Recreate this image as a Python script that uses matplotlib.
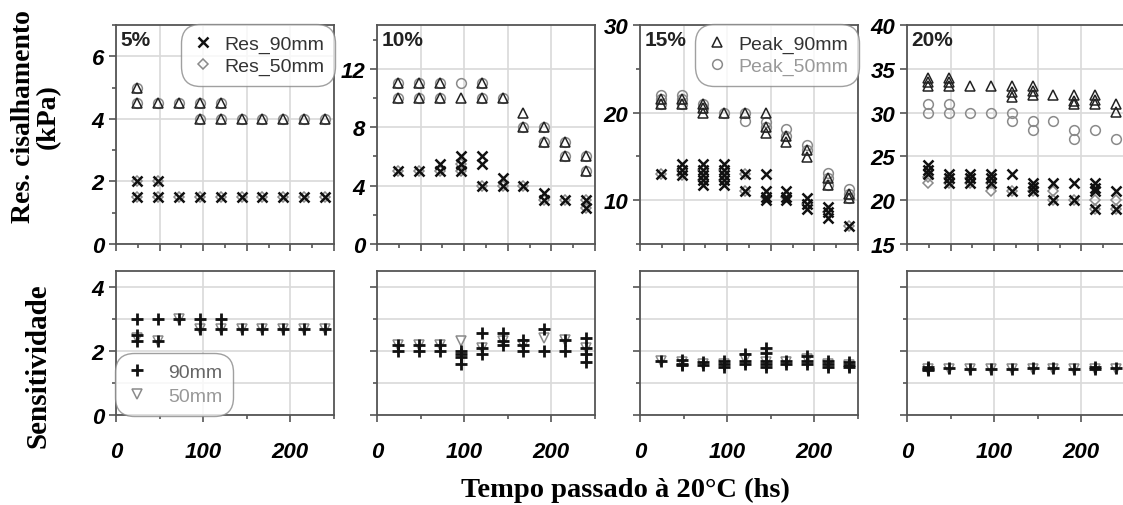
import numpy as np
import matplotlib
matplotlib.use("Agg")
import matplotlib.pyplot as plt
from matplotlib.ticker import MultipleLocator, FixedLocator
from matplotlib.font_manager import FontProperties

# tempos de ensaio (hs)
tempos = [24, 48, 72, 96, 120, 144, 168, 192, 216, 240]
teores = ["5%", "10%", "15%", "20%"]

# resistencia ao cisalhamento (kPa), varias leituras por tempo
peak90_5 = [[5.0, 4.5], [4.5], [4.5], [4.5, 4.0], [4.5, 4.0], [4.0], [4.0], [4.0], [4.0], [4.0]]
peak50_5 = [[5.0, 4.5], [4.5], [4.5], [4.5, 4.0], [4.5, 4.0], [4.0], [4.0], [4.0], [4.0], [4.0]]
res90_5 = [[2.0, 1.5], [2.0, 1.5], [1.5], [1.5], [1.5], [1.5], [1.5], [1.5], [1.5], [1.5]]
res50_5 = [[2.0, 1.5], [2.0, 1.5], [1.5], [1.5], [1.5], [1.5], [1.5], [1.5], [1.5], [1.5]]

peak90_10 = [[11, 10], [11, 10], [11, 10], [10], [11, 10], [10], [9, 8], [8, 7], [7, 6], [6, 5]]
peak50_10 = [[11, 10], [11, 10], [11, 10], [11], [11, 10], [10], [8], [8, 7], [7, 6], [6, 5]]
res90_10 = [[5], [5], [5.5, 5], [6, 5.5, 5], [6, 5.5, 4], [4.5, 4], [4], [3.5, 3], [3], [3, 2.5]]
res50_10 = [[5], [5], [5], [5.5, 5], [4], [4], [4], [3], [3], [3, 2.5]]

peak90_15 = [[21.5, 21], [21.5, 21], [21, 20.5, 20], [20], [20], [20, 18.3, 17.7],
             [17.3, 16.7], [15.7, 14.9], [12.5, 11.7], [10.7, 10.2]]
peak50_15 = [[22, 21.5, 21], [22, 21.5, 21], [21, 20.5], [20], [20, 19], [18.9, 18.3],
             [18.1, 17.3], [16.3, 15.7], [13.1, 12.5, 11.7], [11.3, 10.7, 10.2]]
res90_15 = [[13], [14.1, 13.5, 12.9], [14.1, 13.5, 12.9, 12.3, 11.7], [14.1, 13.5, 12.9, 12.3, 11.7],
            [13, 11], [13, 11, 10.4, 10], [11, 10.4, 10], [10.2, 9.6, 9.0], [9.2, 8.6, 8.0], [7]]
res50_15 = [[13], [13.5, 12.9], [13.5, 12.3], [13.5, 12.3], [13, 11], [10.4], [10.4], [9.6], [8.6], [7]]

peak90_20 = [[34, 33.5, 33], [34, 33.5, 33], [33], [33], [33, 32.4, 31.8], [33, 32.5, 32],
             [32], [32, 31.3, 31], [32, 31.4, 31], [31, 30.1]]
peak50_20 = [[31, 30], [31, 30], [30], [30], [30, 29], [29, 28], [29], [28, 27], [28], [27]]
res90_20 = [[24, 23.5, 23], [23, 22.5, 22], [23, 22.5, 22], [23, 22.5, 22], [23, 21], [22, 21.5, 21],
            [22, 20], [22, 20], [22, 21.4, 21, 19], [21, 19]]
res50_20 = [[22.6, 22], [22.5, 22], [22.5, 22], [22, 21], [21], [21], [21, 20], [20], [20, 19], [20, 19]]

# sensitividade
sens90_5 = [[3.0, 2.5, 2.3], [3.0, 2.3], [3.0], [3.0, 2.7], [3.0, 2.7], [2.7], [2.7], [2.7], [2.7], [2.7]]
sens50_5 = [[2.4], [2.3], [3.0], [2.7], [2.7], [2.7], [2.7], [2.7], [2.7], [2.7]]
sens90_10 = [[2.2, 2.0], [2.2, 2.0], [2.2, 2.0], [2.0, 1.9, 1.8, 1.6], [2.55, 2.1, 1.9],
             [2.55, 2.3, 2.2], [2.35, 2.2, 2.0], [2.7, 2.0], [2.35, 2.0], [2.4, 2.1, 1.9, 1.65]]
sens50_10 = [[2.2], [2.2], [2.2], [2.3], [2.1], [2.3], [2.2], [2.4], [2.35], [2.1]]
sens90_15 = [[1.7], [1.73, 1.6, 1.55], [1.65, 1.55], [1.7, 1.6, 1.5], [1.9, 1.7, 1.6],
             [2.1, 1.95, 1.7, 1.6, 1.5], [1.7, 1.6], [1.85, 1.7, 1.6], [1.7, 1.6, 1.5], [1.65, 1.55, 1.5]]
sens50_15 = [[1.7], [1.65], [1.6], [1.6], [1.75], [1.65], [1.65], [1.75], [1.6], [1.55]]
sens90_20 = [[1.5, 1.45, 1.4], [1.48], [1.43], [1.45], [1.43], [1.48], [1.47], [1.43], [1.5, 1.45], [1.48]]
sens50_20 = [[1.45], [1.45], [1.43], [1.45], [1.43], [1.45], [1.45], [1.43], [1.45], [1.45]]

topo = [(peak90_5, peak50_5, res90_5, res50_5),
        (peak90_10, peak50_10, res90_10, res50_10),
        (peak90_15, peak50_15, res90_15, res50_15),
        (peak90_20, peak50_20, res90_20, res50_20)]
baixo = [(sens90_5, sens50_5), (sens90_10, sens50_10), (sens90_15, sens50_15), (sens90_20, sens50_20)]

ylims = [(0, 7), (0, 15), (5, 30), (15, 40)]
ymaj = [[0, 2, 4, 6], [0, 4, 8, 12], [10, 20, 30], [15, 20, 25, 30, 35, 40]]
ymin = [1, 2, 5, 5]


def achatar(series):
    xs, ys = [], []
    for t, vals in zip(tempos, series):
        for v in vals:
            xs.append(t)
            ys.append(v)
    return xs, ys


W, H = 1123, 506
fig = plt.figure(figsize=(W / 100, H / 100), dpi=100)

lefts = [116, 377, 640, 907]
width = 218
tick_fp = FontProperties(family="Liberation Sans", weight="bold", style="italic", size=16)
leg_prop = dict(family="Liberation Sans", size=14)
cinza = "#8a8a8a"
spine_c = "#555555"


def estilo(ax):
    for s in ax.spines.values():
        s.set_color(spine_c)
        s.set_linewidth(1.3)
    ax.tick_params(which="both", direction="out", color=spine_c, width=1.2)
    ax.tick_params(which="major", length=5)
    ax.tick_params(which="minor", length=3)
    ax.grid(True, which="major", color="#d9d9d9", linewidth=1.2)
    ax.set_axisbelow(True)


def caixa(leg):
    leg.get_frame().set_boxstyle("round,pad=0.2,rounding_size=1.0")
    leg.get_frame().set_linewidth(1.0)


for i in range(4):
    x0 = lefts[i] / W
    ax = fig.add_axes([x0, (H - 245) / H, width / W, 219 / H])
    p90, p50, r90, r50 = topo[i]
    xs, ys = achatar(p50)
    ax.plot(xs, ys, ls="none", marker="o", ms=7, mfc="none", mec=cinza, mew=1.1, label="Peak_50mm")
    xs, ys = achatar(p90)
    ax.plot(xs, ys, ls="none", marker="^", ms=7, mfc="none", mec="#222222", mew=1.1, label="Peak_90mm")
    xs, ys = achatar(r50)
    ax.plot(xs, ys, ls="none", marker="D", ms=5.5, mfc="none", mec=cinza, mew=1.1, label="Res_50mm")
    xs, ys = achatar(r90)
    ax.plot(xs, ys, ls="none", marker="x", ms=6.5, mec="#111111", mew=1.8, label="Res_90mm")
    ax.set_xlim(0, 250)
    ax.set_ylim(*ylims[i])
    ax.xaxis.set_major_locator(MultipleLocator(50))
    ax.xaxis.set_minor_locator(MultipleLocator(25))
    ax.set_xticklabels([])
    ax.yaxis.set_major_locator(FixedLocator(ymaj[i]))
    ax.yaxis.set_minor_locator(MultipleLocator(ymin[i]))
    for lb in ax.get_yticklabels():
        lb.set_fontproperties(tick_fp)
    estilo(ax)
    ax.text(0.02, 0.975, teores[i], transform=ax.transAxes, ha="left", va="top",
            fontsize=15, fontweight="bold", family="Liberation Sans", color="#222222")
    h, l = ax.get_legend_handles_labels()
    if i == 0:
        leg = ax.legend([h[3], h[2]], [l[3], l[2]], loc="upper right", frameon=True,
                        edgecolor="#888888", handletextpad=0.5, handlelength=1.2,
                        borderaxespad=0.15, labelspacing=0.25, borderpad=0.35, prop=leg_prop)
        for t in leg.get_texts():
            t.set_color("#333333")
        caixa(leg)
    if i == 2:
        leg = ax.legend([h[1], h[0]], [l[1], l[0]], loc="upper right", frameon=True,
                        edgecolor="#888888", handletextpad=0.5, handlelength=1.2,
                        borderaxespad=0.15, labelspacing=0.25, borderpad=0.35, prop=leg_prop)
        leg.get_texts()[0].set_color("#333333")
        leg.get_texts()[1].set_color("#999999")
        caixa(leg)

for i in range(4):
    x0 = lefts[i] / W
    ax = fig.add_axes([x0, (H - 416) / H, width / W, 144 / H])
    s90, s50 = baixo[i]
    xs, ys = achatar(s50)
    ax.plot(xs, ys, ls="none", marker="v", ms=7, mfc="none", mec=cinza, mew=1.1, label="50mm")
    xs, ys = achatar(s90)
    ax.plot(xs, ys, ls="none", marker="+", ms=9, mec="#111111", mew=2.0, label="90mm")
    ax.set_xlim(0, 250)
    ax.set_ylim(0, 4.5)
    ax.xaxis.set_major_locator(MultipleLocator(100))
    ax.xaxis.set_minor_locator(MultipleLocator(50))
    ax.set_yticks([0, 2, 4])
    ax.yaxis.set_minor_locator(FixedLocator([1, 3]))
    estilo(ax)
    ax.grid(True, which="minor", axis="y", color="#d9d9d9", linewidth=1.2)
    for lb in ax.get_xticklabels():
        lb.set_fontproperties(tick_fp)
    if i == 0:
        for lb in ax.get_yticklabels():
            lb.set_fontproperties(tick_fp)
        h, l = ax.get_legend_handles_labels()
        leg = ax.legend([h[1], h[0]], [l[1], l[0]], loc="lower left", frameon=True,
                        edgecolor="#888888", handletextpad=1.0, handlelength=1.2,
                        borderaxespad=0.15, labelspacing=0.35, borderpad=0.35, prop=leg_prop)
        leg.get_texts()[0].set_color("#666666")
        leg.get_texts()[1].set_color("#999999")
        caixa(leg)
    else:
        ax.set_yticklabels([])
    ax.tick_params(axis="x", pad=14)

serif = dict(family="Liberation Serif", weight="bold")
fig.text(36 / W, 1 - 117 / H, "Res. cisalhamento\n(kPa)", rotation=90, ha="center", va="center",
         linespacing=1.0, fontsize=20, **serif)
fig.text(38 / W, 1 - 366 / H, "Sensitividade", rotation=90, ha="center", va="center",
         fontsize=21, **serif)
fig.text(625 / W, 1 - 490 / H, "Tempo passado à 20°C (hs)", ha="center", va="center",
         fontsize=20.5, **serif)

fig.savefig("out.png", dpi=100)
